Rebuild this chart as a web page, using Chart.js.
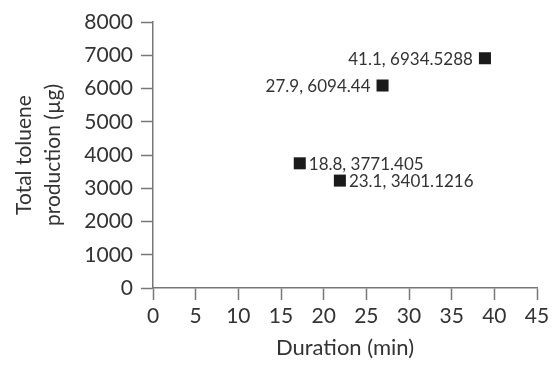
<!DOCTYPE html>
<html>
<head>
<meta charset="utf-8">
<script src="https://cdn.jsdelivr.net/npm/chart.js@4.4.1/dist/chart.umd.min.js"></script>
<style>
  html, body { margin: 0; padding: 0; background: #fff; }
  #wrap { width: 554px; height: 365px; }
</style>
</head>
<body>
<div id="wrap"><canvas id="chart"></canvas></div>
<script>
// values as plotted in the picture
const durations = [17.2, 21.9, 26.9, 38.9];
const toluene = [3750, 3230, 6090, 6910];
// annotation text as printed next to each marker
const pointLabels = ['18.8, 3771.405', '23.1, 3401.1216', '27.9, 6094.44', '41.1, 6934.5288'];
const xTicks = [0, 5, 10, 15, 20, 25, 30, 35, 40, 45];
const yTicks = [0, 1000, 2000, 3000, 4000, 5000, 6000, 7000, 8000];

const FONT = "Lato, 'Open Sans', sans-serif";
const TEXT = '#333';
const labelSide = ['right', 'right', 'left', 'left'];

const pointText = {
    id: 'pointText',
    afterDatasetsDraw(chart) {
        const ctx = chart.ctx;
        const meta = chart.getDatasetMeta(0);
        ctx.save();
        ctx.font = '17px ' + FONT;
        ctx.fillStyle = TEXT;
        ctx.textBaseline = 'middle';
        meta.data.forEach((pt, i) => {
            if (labelSide[i] === 'right') {
                ctx.textAlign = 'left';
                ctx.fillText(pointLabels[i], pt.x + 9, pt.y + 1);
            } else {
                ctx.textAlign = 'right';
                ctx.fillText(pointLabels[i], pt.x - 12, pt.y + 1);
            }
        });
        ctx.restore();
    }
};

new Chart(document.getElementById('chart'), {
    type: 'scatter',
    data: {
        datasets: [{
            data: durations.map((d, i) => ({ x: d, y: toluene[i] })),
            pointStyle: 'rect',
            pointRadius: 8.5,
            pointHoverRadius: 8.5,
            backgroundColor: '#1a1a1a',
            borderColor: '#1a1a1a',
            borderWidth: 0
        }]
    },
    options: {
        responsive: true,
        maintainAspectRatio: false,
        animation: false,
        layout: { padding: { top: 22, right: 17, left: 0, bottom: 0 } },
        plugins: { legend: { display: false }, tooltip: { enabled: false } },
        scales: {
            x: {
                type: 'linear',
                min: 0,
                max: 45,
                afterBuildTicks: (axis) => { axis.ticks = xTicks.map(v => ({ value: v })); },
                afterFit: (axis) => { axis.height = 77; },
                grid: { drawOnChartArea: false, drawTicks: true, tickLength: 12, color: '#777', tickWidth: 1.5 },
                border: { display: true, color: '#777', width: 1.5 },
                ticks: { color: TEXT, padding: 4, font: { family: FONT, size: 21 }, maxRotation: 0, callback: v => String(v) },
                title: { display: true, text: 'Duration (min)', color: TEXT, font: { family: FONT, size: 22 }, padding: { top: 0, bottom: 4 } }
            },
            y: {
                type: 'linear',
                min: 0,
                max: 8000,
                afterBuildTicks: (axis) => { axis.ticks = yTicks.map(v => ({ value: v })); },
                afterFit: (axis) => { axis.width = 153; },
                grid: { drawOnChartArea: false, drawTicks: true, tickLength: 12, color: '#777', tickWidth: 1.5 },
                border: { display: true, color: '#777', width: 1.5 },
                ticks: { color: TEXT, padding: 8, font: { family: FONT, size: 21 }, callback: v => String(v) },
                title: { display: true, text: ['Total toluene', 'production (\u00b5g)'], color: TEXT, font: { family: FONT, size: 21, lineHeight: 1.38 }, padding: { top: 10, bottom: 0 } }
            }
        }
    },
    plugins: [pointText]
});
</script>
</body>
</html>
